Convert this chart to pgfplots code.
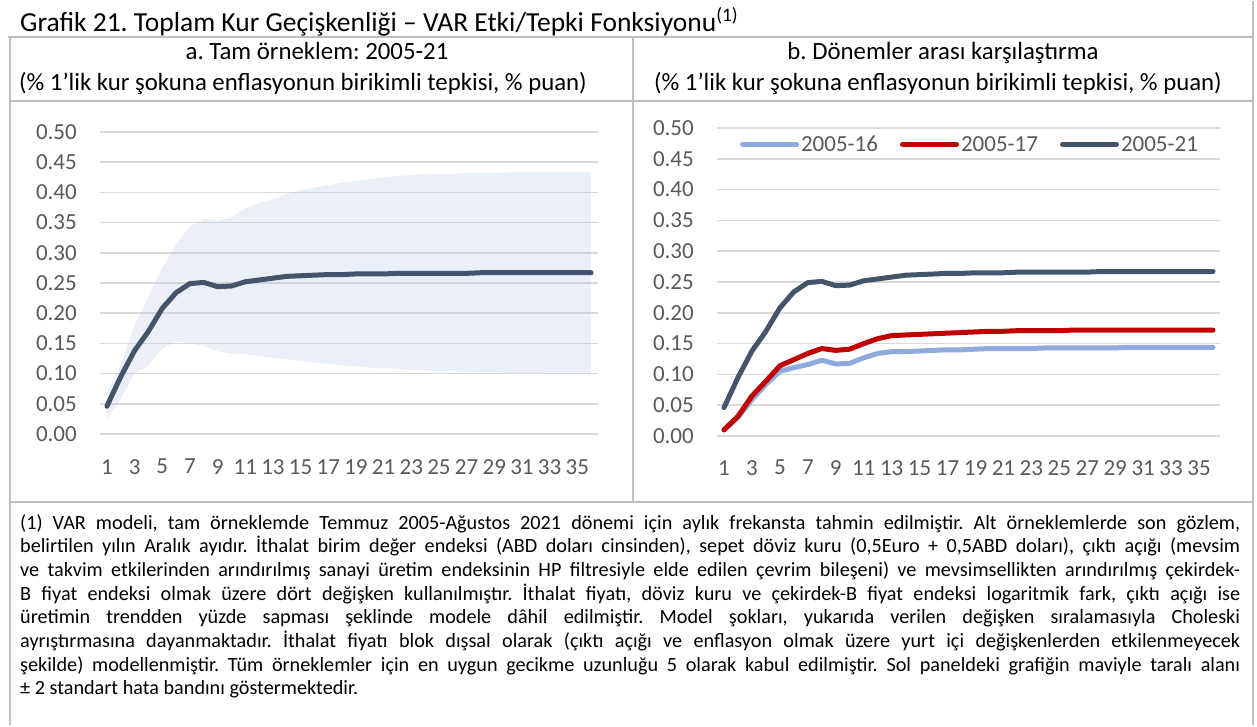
\documentclass[border=0pt]{standalone}
\usepackage{fontspec}
\setmainfont{Carlito}
\usepackage{pgfplots}
\pgfplotsset{compat=1.18}
\usepackage{pgfplotstable}
\usepgfplotslibrary{fillbetween}
\definecolor{darkc}{HTML}{44546A}
\definecolor{redc}{HTML}{C00000}
\definecolor{bluec}{HTML}{8FAADC}
\definecolor{bandc}{HTML}{B4C7E7}
\definecolor{gridc}{HTML}{D9D9D9}
\definecolor{tickc}{HTML}{595959}
\definecolor{framec}{HTML}{BFBFBF}

\pgfplotstableread{
x u l d r b
1 0.068 0.025 0.046 0.010 0.010
2 0.114 0.058 0.095 0.032 0.030
3 0.180 0.100 0.138 0.065 0.059
4 0.228 0.114 0.170 0.089 0.084
5 0.275 0.142 0.208 0.114 0.105
6 0.314 0.153 0.234 0.124 0.111
7 0.344 0.150 0.249 0.134 0.116
8 0.356 0.146 0.251 0.142 0.123
9 0.353 0.137 0.244 0.139 0.117
10 0.359 0.133 0.245 0.141 0.118
11 0.374 0.132 0.252 0.150 0.127
12 0.382 0.129 0.255 0.158 0.134
13 0.389 0.126 0.258 0.163 0.137
14 0.397 0.124 0.261 0.164 0.137
15 0.404 0.121 0.262 0.165 0.138
16 0.408 0.118 0.263 0.166 0.139
17 0.412 0.116 0.264 0.167 0.140
18 0.416 0.114 0.264 0.168 0.140
19 0.419 0.112 0.265 0.169 0.141
20 0.422 0.110 0.265 0.170 0.142
21 0.425 0.109 0.265 0.170 0.142
22 0.427 0.108 0.266 0.171 0.142
23 0.429 0.106 0.266 0.171 0.142
24 0.430 0.105 0.266 0.171 0.143
25 0.431 0.104 0.266 0.171 0.143
26 0.431 0.104 0.266 0.172 0.143
27 0.432 0.103 0.266 0.172 0.143
28 0.432 0.102 0.267 0.172 0.143
29 0.432 0.102 0.267 0.172 0.143
30 0.433 0.101 0.267 0.172 0.144
31 0.433 0.101 0.267 0.172 0.144
32 0.433 0.101 0.267 0.172 0.144
33 0.433 0.100 0.267 0.172 0.144
34 0.433 0.100 0.267 0.172 0.144
35 0.433 0.100 0.267 0.172 0.144
36 0.433 0.100 0.267 0.172 0.144
}\irf

\pgfplotsset{
  myaxis/.style={
    scale only axis,
    xmin=0.5, xmax=36.5, ymin=0, ymax=0.5,
    xtick={1,3,...,35},
    ytick={0,0.05,0.10,0.15,0.20,0.25,0.30,0.35,0.40,0.45,0.50},
    axis line style={draw=none},
    major tick length=0pt,
    ymajorgrids,
    grid style={color=gridc, line width=1.5pt},
    tick label style={font=\fontsize{23}{27}\selectfont, text=tickc, inner sep=0pt},
    yticklabel style={anchor=east, xshift=-23pt,
      /pgf/number format/fixed, /pgf/number format/fixed zerofill,
      /pgf/number format/precision=2},
    /pgf/number format/assume math mode=true,
  }
}

\newcommand\jl[1]{\hbox to 1220pt{#1}}
\frenchspacing

\begin{document}
\begin{tikzpicture}
\path (0pt,0pt) rectangle (1257pt,-724pt);

% frame
\draw[framec, line width=2pt] (8pt,-36pt) -- (1254pt,-36pt);
\draw[framec, line width=2pt] (1253pt,0pt) -- (1253pt,-724pt);
\draw[framec, line width=2pt] (9.5pt,-36pt) -- (9.5pt,-724pt);
\draw[framec, line width=2pt] (9pt,-100pt) -- (1253pt,-100pt);
\draw[framec, line width=2pt] (632.5pt,-36pt) -- (632.5pt,-501pt);
\draw[framec, line width=2pt] (9pt,-501pt) -- (1253pt,-501pt);

% titles
\node[anchor=base west, inner sep=0pt, font=\fontsize{27.5}{32}\selectfont] at (20pt,-30pt)
  {Grafik 21. Toplam Kur Geçişkenliği – VAR Etki/Tepki Fonksiyonu\textsuperscript{(1)}};
\node[anchor=base, inner sep=0pt, font=\fontsize{24.8}{29}\selectfont] at (317pt,-58pt) {a. Tam örneklem: 2005-21};
\node[anchor=base, inner sep=0pt, font=\fontsize{24.8}{29}\selectfont] at (303pt,-89pt) {(\% 1’lik kur şokuna enflasyonun birikimli tepkisi, \% puan)};
\node[anchor=base, inner sep=0pt, font=\fontsize{24.8}{29}\selectfont] at (943pt,-58pt) {b. Dönemler arası karşılaştırma};
\node[anchor=base, inner sep=0pt, font=\fontsize{24.8}{29}\selectfont] at (938pt,-89pt) {(\% 1’lik kur şokuna enflasyonun birikimli tepkisi, \% puan)};

% left panel
\begin{axis}[myaxis, at={(100pt,-433pt)}, anchor=south west, width=498pt, height=302pt,
  xticklabel style={anchor=north, yshift=-25pt}]
\addplot[name path=U, draw=none, forget plot] table[x=x,y=u]{\irf};
\addplot[name path=L, draw=none, forget plot] table[x=x,y=l]{\irf};
\addplot[fill=bandc, fill opacity=0.28, draw=none, forget plot] fill between[of=U and L];
\addplot[darkc, line width=5pt, line cap=round, line join=round] table[x=x,y=d]{\irf};
\end{axis}

% right panel
\begin{axis}[myaxis, at={(717pt,-435pt)}, anchor=south west, width=503pt, height=308pt,
  xticklabel style={anchor=north, yshift=-24pt},
  legend style={at={(0.503,0.947)}, anchor=center, draw=none, fill=none,
    font=\fontsize{23}{27}\selectfont, text=tickc, inner sep=0pt,
    nodes={inner sep=2pt},
    /tikz/every even column/.append style={column sep=20pt}},
  legend columns=3,
  legend image code/.code={\draw[#1, line cap=round] (0pt,0pt) -- (54pt,0pt);}]
\addplot[bluec, line width=5pt, line cap=round, line join=round] table[x=x,y=b]{\irf};
\addlegendentry{2005-16}
\addplot[redc, line width=5pt, line cap=round, line join=round] table[x=x,y=r]{\irf};
\addlegendentry{2005-17}
\addplot[darkc, line width=5pt, line cap=round, line join=round] table[x=x,y=d]{\irf};
\addlegendentry{2005-21}
\end{axis}

% footnote
\node[anchor=base west, inner sep=0pt, font=\fontsize{20.2}{23.7}\selectfont] at (20pt,-528pt) {\vtop{\baselineskip=23.7pt\lineskiplimit=-100pt
\jl{(1) VAR modeli, tam örneklemde Temmuz 2005-Ağustos 2021 dönemi için aylık frekansta tahmin edilmiştir. Alt örneklemlerde son gözlem,}
\jl{belirtilen yılın Aralık ayıdır. İthalat birim değer endeksi (ABD doları cinsinden), sepet döviz kuru (0,5Euro + 0,5ABD doları), çıktı açığı (mevsim}
\jl{ve takvim etkilerinden arındırılmış sanayi üretim endeksinin HP filtresiyle elde edilen çevrim bileşeni) ve mevsimsellikten arındırılmış çekirdek-}
\jl{B fiyat endeksi olmak üzere dört değişken kullanılmıştır. İthalat fiyatı, döviz kuru ve çekirdek-B fiyat endeksi logaritmik fark, çıktı açığı ise}
\jl{üretimin trendden yüzde sapması şeklinde modele dâhil edilmiştir. Model şokları, yukarıda verilen değişken sıralamasıyla Choleski}
\jl{ayrıştırmasına dayanmaktadır. İthalat fiyatı blok dışsal olarak (çıktı açığı ve enflasyon olmak üzere yurt içi değişkenlerden etkilenmeyecek}
\jl{şekilde) modellenmiştir. Tüm örneklemler için en uygun gecikme uzunluğu 5 olarak kabul edilmiştir. Sol paneldeki grafiğin maviyle taralı alanı}
\hbox{± 2 standart hata bandını göstermektedir.}}};
\end{tikzpicture}
\end{document}
